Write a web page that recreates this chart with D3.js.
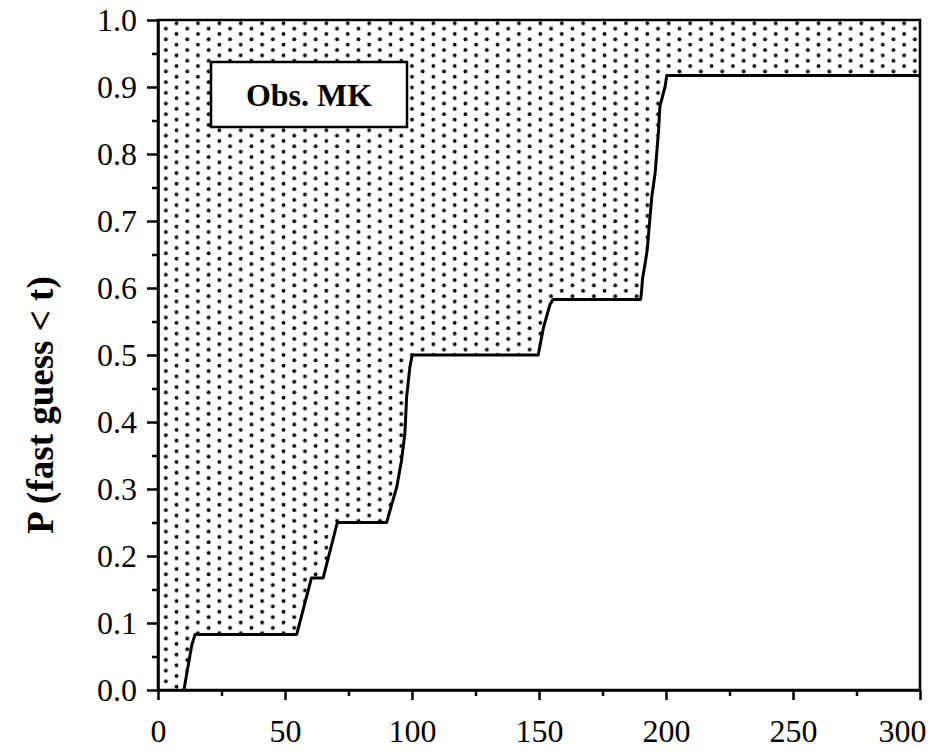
<!DOCTYPE html>
<html>
<head>
<meta charset="utf-8">
<script src="https://cdn.jsdelivr.net/npm/d3@7"></script>
<style>
  body { margin: 0; background: #fff; }
  svg { display: block; }
  .axis text { font-family: "Liberation Serif", "Times New Roman", serif; font-size: 32px; fill: #000; }
  .axis path, .axis line { stroke: #000; stroke-width: 2.5; }
</style>
</head>
<body>
<svg id="chart" width="945" height="755"></svg>
<script>
// digitised cumulative curve: time t and P(fast guess < t)
let curveT = [10.2, 13.3, 14.6, 54.6, 60.4, 65, 70.6, 90, 94, 95.9, 97.2, 97.9, 99.2, 100.1,
              149.7, 151.7, 154.3, 155.5, 190.0, 190.3, 190.8, 191.8, 192.6, 194.4, 195.7, 197, 197.6, 199.6, 200.3, 300];
let curveP = [0, 0.067, 0.083, 0.083, 0.167, 0.167, 0.25, 0.25, 0.303, 0.343, 0.383, 0.438, 0.483, 0.5,
              0.5, 0.54, 0.575, 0.583, 0.583, 0.592, 0.615, 0.637, 0.657, 0.736, 0.771, 0.831, 0.871, 0.9, 0.917, 0.917];

let xTicks = [0, 50, 100, 150, 200, 250, 300];
let xMinor = [25, 75, 125, 175, 225, 275];
let yTicks = [0, 0.1, 0.2, 0.3, 0.4, 0.5, 0.6, 0.7, 0.8, 0.9, 1.0];
let yMinor = [0.05, 0.15, 0.25, 0.35, 0.45, 0.55, 0.65, 0.75, 0.85, 0.95];

let legendLabel = 'Obs. MK';
let yTitle = 'P (fast guess < t)';

let margin = {top: 20, left: 158},
    width = 762,
    height = 670;

let svg = d3.select('svg#chart');

// dotted fill pattern
let pat = svg.append('defs').append('pattern')
  .attr('id', 'dots')
  .attr('patternUnits', 'userSpaceOnUse')
  .attr('x', margin.left + 5)
  .attr('y', margin.top + 2)
  .attr('width', 21.4)
  .attr('height', 10.7);
pat.append('circle').attr('cx', 5.35).attr('cy', 2.7).attr('r', 1.9).attr('fill', '#000');
pat.append('circle').attr('cx', 16.05).attr('cy', 8.05).attr('r', 1.9).attr('fill', '#000');

let g = svg.append('g')
  .attr('transform', `translate(${margin.left}, ${margin.top})`);

let xScale = d3.scaleLinear().domain([0, 300]).range([0, width]);
let yScale = d3.scaleLinear().domain([0, 1]).range([height, 0]);

let pts = curveT.map((t, i) => ({t: t, p: curveP[i]}));

// dotted area between curve and P = 1
let areaPts = [{t: 0, p: 0}].concat(pts);
g.append('path')
  .datum(areaPts)
  .attr('fill', 'url(#dots)')
  .attr('d', d3.area()
    .x(d => xScale(d.t))
    .y0(yScale(1))
    .y1(d => yScale(d.p)));

// frame (top and right)
g.append('rect')
  .attr('x', 0).attr('y', 0)
  .attr('width', width).attr('height', height)
  .attr('fill', 'none')
  .attr('stroke', '#000')
  .attr('stroke-width', 2.5);

// the step curve
g.append('path')
  .datum(pts)
  .attr('fill', 'none')
  .attr('stroke', '#000')
  .attr('stroke-width', 3)
  .attr('stroke-linejoin', 'round')
  .attr('d', d3.line().x(d => xScale(d.t)).y(d => yScale(d.p)));

// axes
let xAxis = g.append('g')
  .attr('class', 'axis')
  .attr('transform', `translate(0, ${height})`)
  .call(d3.axisBottom(xScale).tickValues(xTicks).tickSize(10).tickSizeOuter(0).tickPadding(19)
    .tickFormat(d3.format('d')));

// last label is pulled in to fit the page
xAxis.selectAll('.tick text')
  .filter(d => d === 300)
  .attr('text-anchor', 'end')
  .attr('x', 6);

g.append('g')
  .attr('class', 'axis')
  .attr('transform', `translate(0, ${height})`)
  .call(d3.axisBottom(xScale).tickValues(xMinor).tickSize(6).tickFormat(''))
  .select('.domain').remove();

g.append('g')
  .attr('class', 'axis')
  .call(d3.axisLeft(yScale).tickValues(yTicks).tickSize(11).tickSizeOuter(0).tickPadding(10)
    .tickFormat(d3.format('.1f')));

g.append('g')
  .attr('class', 'axis')
  .call(d3.axisLeft(yScale).tickValues(yMinor).tickSize(6).tickFormat(''))
  .select('.domain').remove();

// legend box
svg.append('rect')
  .attr('x', 211).attr('y', 62)
  .attr('width', 196).attr('height', 65)
  .attr('fill', '#fff')
  .attr('stroke', '#000')
  .attr('stroke-width', 2.5);

svg.append('text')
  .attr('x', 309).attr('y', 106)
  .attr('text-anchor', 'middle')
  .attr('font-family', '"Liberation Serif", "Times New Roman", serif')
  .attr('font-weight', 'bold')
  .attr('font-size', 32)
  .text(legendLabel);

// y axis title
svg.append('text')
  .attr('transform', 'translate(53, 405) rotate(-90)')
  .attr('text-anchor', 'middle')
  .attr('font-family', '"Liberation Serif", "Times New Roman", serif')
  .attr('font-weight', 'bold')
  .attr('font-size', 37)
  .text(yTitle);
</script>
</body>
</html>
